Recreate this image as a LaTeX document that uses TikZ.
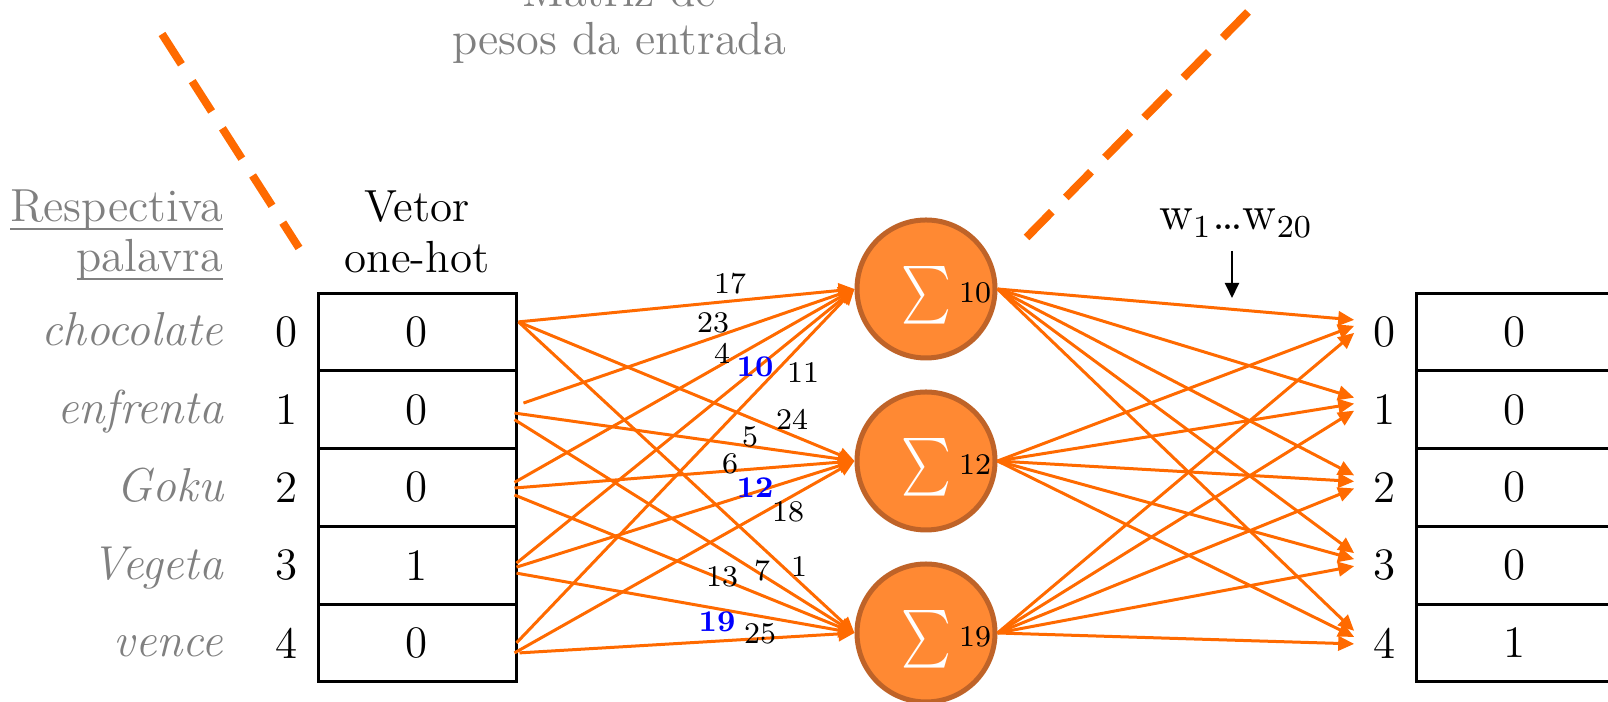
\documentclass[tikz,border=0pt]{standalone}
\usepackage{amsmath}
\usepackage{graphicx}
\usetikzlibrary{arrows.meta,calc}
\definecolor{lineor}{RGB}{255,106,0}
\definecolor{nfill}{RGB}{255,137,51}
\definecolor{nborder}{RGB}{191,99,40}
\definecolor{txtgray}{RGB}{128,128,128}
\definecolor{wblue}{RGB}{0,0,255}
\begin{document}
\begin{tikzpicture}[x=0.25pt,y=-0.25pt,
  txt/.style={inner sep=0pt, font=\fontsize{11.25}{12.5}\selectfont},
  graytxt/.style={inner sep=0pt, text=txtgray, font=\fontsize{11.6}{12.5}\selectfont},
  word/.style={inner sep=0pt, text=txtgray, font=\fontsize{11.9}{12.5}\selectfont\itshape, anchor=base east},
  cell/.style={draw=black, line width=0.75pt, minimum width=49.5pt, minimum height=19.44pt, inner sep=0pt, font=\fontsize{11.25}{12.5}\selectfont},
  idx/.style={inner sep=0pt, font=\fontsize{11.25}{12.5}\selectfont},
  idxr/.style={inner xsep=4.75pt, inner ysep=0pt, font=\fontsize{11.25}{12.5}\selectfont},
  neuron/.style={circle, fill=nfill, draw=nborder, line width=1.25pt, minimum size=34.5pt, inner sep=0pt},
  sig/.style={inner sep=0pt, text=white, font=\fontsize{13.5}{15}\selectfont},
  wlink/.style={draw=lineor, line width=0.75pt, -{Triangle[length=4pt,width=3.6pt]}},
  wlab/.style={inner sep=0pt, font=\fontsize{7.5}{9}\selectfont},
  hot/.style={inner sep=0pt, text=wblue, font=\fontsize{7.5}{9}\selectfont\bfseries},
  guide/.style={draw=lineor, line width=2pt, dash pattern=on 9pt off 5pt},
  ptr/.style={draw=black, line width=0.5pt, -{Triangle[length=3.75pt,width=3.5pt]}}
]
\clip (0,0) rectangle (1608,702);

% titles
\node[graytxt, anchor=base] (t1) at (619,6.5) {Matriz de};
\node[graytxt, anchor=base] (t2) at (619,55) {pesos da entrada};
\node[txt, anchor=base] (h1) at (417,222) {Vetor};
\node[txt, anchor=base] (h2) at (417,273) {one-hot};
\node[graytxt, anchor=base east] (r1) at (224,222) {\underline{\smash{Respectiva}}};
\node[graytxt, anchor=base east] (r2) at (224,272) {\underline{\smash{palavra}}};
\node[txt, anchor=base, font=\fontsize{12}{13}\selectfont] (wl) at (1236,230) {w$_1$\ldots w$_{20}$};
\coordinate (wa1) at (1232,251);
\coordinate (wa2) at (1232,298);
\draw[ptr] (wa1) -- (wa2);

% dashed guides
\coordinate (gl1) at (162,34);
\coordinate (gl2) at (299,248);
\coordinate (gr1) at (1248,12);
\coordinate (gr2) at (1026,238);
\draw[guide] (gl1) -- (gl2);
\draw[guide] (gr1) -- (gr2);

% input vector
\foreach \i/\v/\w in {0/0/chocolate,1/0/enfrenta,2/0/Goku,3/1/Vegeta,4/0/vence} {
  \pgfmathsetmacro\yc{331.9+77.75*\i}
  \node[cell] (c\i) at (417,\yc) {\v};
  \node[idx] (n\i) at (287,\yc) {\i};
  \node[word] (w\i) at (224,\yc+14) {\w};
}
% output vector
\foreach \i/\v in {0/0,1/0,2/0,3/0,4/1} {
  \pgfmathsetmacro\yc{331.9+77.75*\i}
  \node[cell] (d\i) at (1515,\yc) {\v};
  \node[idxr] (o\i) at (1385,\yc) {\i};
}

% neurons
\node[neuron] (s10) at (926,289) {};
\node[neuron] (s12) at (926,461) {};
\node[neuron] (s19) at (926,633) {};
\foreach \s/\y in {10/289,12/461,19/633} {
  \node[sig] (g\s) at (926,\y+6) {\scalebox{0.82}[1]{$\sum$}};
  \node[wlab] (v\s) at (975,\y+4) {\s};
}

% input links
\foreach \r/\t/\dx/\dy in {
  0/10/1/-10, 0/12/1/-10, 0/19/1/-10,
  1/10/6/-6.6, 1/12/-3/3.4, 1/19/-3/10,
  2/10/-3/-5, 2/12/-3/0.6, 2/19/-3/7.6,
  3/10/-1/-2, 3/12/-1/2, 3/19/-1/8,
  4/10/-1/0, 4/12/-3/10, 4/19/2/10} {
  \draw[wlink] ($(c\r.east)+(\dx,\dy)$) -- (s\t.west);
}

% output links
\foreach \t/\dy in {10/-12,12/-6,19/1} {
  \foreach \o in {0,1,2,3,4} {
    \draw[wlink] (s\t.east) -- ($(o\o.west)+(0,\dy)$);
  }
}

% weight labels
\node[wlab] (l17) at (730,284) {17};
\node[wlab] (l23) at (713,323) {23};
\node[wlab] (l4) at (722,353) {4};
\node[hot] (l10) at (755,367) {10};
\node[wlab] (l11) at (803,373) {11};
\node[wlab] (l24) at (792,419) {24};
\node[wlab] (l5) at (750,437) {5};
\node[wlab] (l6) at (730,464) {6};
\node[hot] (l12) at (755,488) {12};
\node[wlab] (l18) at (788,512) {18};
\node[wlab] (l13) at (722,577) {13};
\node[wlab] (l7) at (762,571) {7};
\node[wlab] (l1) at (799,567) {1};
\node[hot] (l19) at (717,622) {19};
\node[wlab] (l25) at (760,634) {25};
\end{tikzpicture}
\end{document}
